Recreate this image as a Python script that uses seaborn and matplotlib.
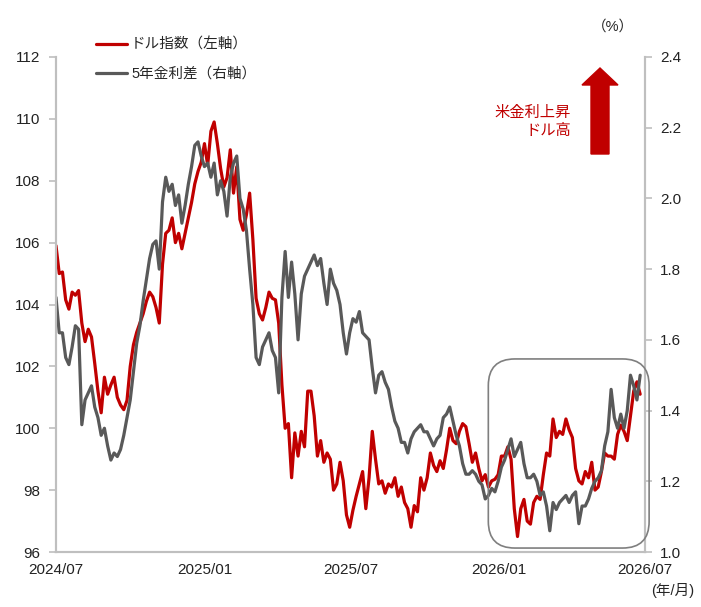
import numpy as np
import pandas as pd
import matplotlib
matplotlib.use("Agg")
import matplotlib.pyplot as plt
import matplotlib.dates as mdates
from matplotlib.patches import FancyBboxPatch, FancyArrow
from matplotlib.lines import Line2D
import seaborn as sns

# --- data (one point every 4 days) ---
start_date = "2024-07-01"
step = "4D"

dollar_index = [
    105.9, 105.0, 105.05, 104.15, 103.85, 104.4, 104.3, 104.45, 103.4, 102.8,
    103.2, 102.95, 102.1, 101.2, 100.5, 101.65, 101.1, 101.4, 101.65, 101.0,
    100.75, 100.6, 100.9, 102.0, 102.7, 103.1, 103.4, 103.7, 104.1, 104.4,
    104.25, 103.9, 103.4, 105.3, 106.3, 106.4, 106.8, 106.0, 106.3, 105.8,
    106.3, 106.8, 107.3, 107.9, 108.3, 108.6, 109.2, 108.5, 109.6, 109.9,
    109.2, 108.4, 107.8, 108.1, 109.0, 107.6, 108.45, 106.75, 106.4, 106.9,
    107.6, 106.1, 104.2, 103.7, 103.5, 103.9, 104.4, 104.2, 104.15, 103.4,
    101.4, 100.0, 100.15, 98.4, 99.85, 99.1, 99.9, 99.4, 101.2, 101.2,
    100.4, 99.1, 99.6, 98.9, 99.2, 99.0, 98.0, 98.2, 98.9, 98.3,
    97.2, 96.8, 97.35, 97.8, 98.2, 98.6, 97.4, 98.4, 99.9, 99.0,
    98.2, 98.3, 97.9, 98.2, 98.1, 98.4, 97.8, 98.1, 97.6, 97.4,
    96.8, 97.5, 97.3, 98.4, 98.0, 98.4, 99.2, 98.8, 98.6, 98.95,
    98.7, 99.3, 100.0, 99.6, 99.5, 99.9, 100.15, 100.05, 99.5, 98.9,
    99.2, 98.7, 98.3, 98.5, 98.1, 98.3, 98.35, 98.5, 99.1, 99.1,
    99.4, 99.0, 97.4, 96.5, 97.4, 97.7, 97.0, 96.9, 97.6, 97.8,
    97.7, 98.5, 99.2, 99.1, 100.3, 99.7, 99.9, 99.8, 100.3, 99.95,
    99.7, 98.7, 98.3, 98.2, 98.6, 98.4, 98.9, 98.0, 98.1, 98.6,
    99.2, 99.1, 99.1, 99.0, 99.8, 100.1, 99.9, 99.6, 100.4, 101.2,
    101.5, 101.1,
]

rate_spread = [
    1.72, 1.62, 1.62, 1.55, 1.53, 1.58, 1.64, 1.63, 1.36, 1.43,
    1.45, 1.47, 1.41, 1.38, 1.33, 1.35, 1.30, 1.26, 1.28, 1.27,
    1.29, 1.33, 1.38, 1.43, 1.51, 1.59, 1.64, 1.71, 1.77, 1.83,
    1.87, 1.88, 1.80, 1.99, 2.06, 2.02, 2.04, 1.98, 2.01, 1.93,
    1.98, 2.04, 2.09, 2.15, 2.16, 2.12, 2.09, 2.10, 2.06, 2.10,
    2.01, 2.05, 2.02, 1.95, 2.06, 2.10, 2.12, 2.00, 1.97, 1.91,
    1.80, 1.70, 1.55, 1.53, 1.58, 1.60, 1.62, 1.57, 1.55, 1.45,
    1.72, 1.85, 1.72, 1.82, 1.73, 1.60, 1.73, 1.78, 1.80, 1.82,
    1.84, 1.81, 1.83, 1.76, 1.70, 1.80, 1.76, 1.74, 1.70, 1.62,
    1.56, 1.62, 1.66, 1.65, 1.68, 1.62, 1.61, 1.60, 1.52, 1.45,
    1.50, 1.51, 1.48, 1.46, 1.41, 1.37, 1.35, 1.31, 1.31, 1.28,
    1.32, 1.34, 1.35, 1.36, 1.34, 1.34, 1.32, 1.30, 1.32, 1.33,
    1.38, 1.39, 1.41, 1.37, 1.33, 1.30, 1.25, 1.22, 1.22, 1.23,
    1.22, 1.20, 1.19, 1.15, 1.16, 1.18, 1.17, 1.20, 1.24, 1.26,
    1.29, 1.32, 1.27, 1.29, 1.31, 1.25, 1.21, 1.21, 1.22, 1.20,
    1.16, 1.17, 1.13, 1.06, 1.14, 1.12, 1.14, 1.15, 1.16, 1.14,
    1.16, 1.17, 1.08, 1.13, 1.13, 1.15, 1.18, 1.20, 1.21, 1.23,
    1.30, 1.34, 1.46, 1.38, 1.35, 1.39, 1.35, 1.40, 1.50, 1.47,
    1.43, 1.50,
]

x_ticks = ["2024-07-01", "2025-01-01", "2025-07-01", "2026-01-01", "2026-07-01"]
left_ticks = [96, 98, 100, 102, 104, 106, 108, 110, 112]
right_ticks = [1.0, 1.2, 1.4, 1.6, 1.8, 2.0, 2.2, 2.4]

label_dollar = "ドル指数（左軸）"
label_spread = "5年金利差（右軸）"

RED = "#c00000"
GRAY = "#595959"
SPINE = "#bfbfbf"

sns.set_theme(style="white")
plt.rcParams["font.family"] = ["Liberation Sans", "Noto Sans CJK JP", "DejaVu Sans"]
plt.rcParams["font.size"] = 10.5

df = pd.DataFrame({
    "date": pd.date_range(start_date, periods=len(dollar_index), freq=step),
    "dollar": dollar_index,
    "spread": rate_spread,
})

fig = plt.figure(figsize=(7.01, 6.07), dpi=100)
ax = fig.add_axes([56 / 701, 1 - 552 / 607, (645 - 56) / 701, (552 - 57) / 607])
ax2 = ax.twinx()

sns.lineplot(data=df, x="date", y="dollar", color=RED, lw=2.3, ax=ax, legend=False)
sns.lineplot(data=df, x="date", y="spread", color=GRAY, lw=2.3, ax=ax2, legend=False)

xt = pd.to_datetime(x_ticks)
ax.set_xlim(xt[0], xt[-1])
ax.set_ylim(96, 112)
ax2.set_ylim(1.0, 2.4)
ax.set_xticks(xt)
ax.xaxis.set_major_formatter(mdates.DateFormatter("%Y/%m"))
ax.set_yticks(left_ticks)
ax2.set_yticks(right_ticks)
ax2.set_yticklabels([f"{v:.1f}" for v in right_ticks])
for a in (ax, ax2):
    a.set_xlabel("")
    a.set_ylabel("")
    a.grid(False)
    a.spines["top"].set_visible(False)
    for s in ("left", "right", "bottom"):
        a.spines[s].set_color(SPINE)
        a.spines[s].set_linewidth(1.5)
    a.tick_params(colors=SPINE, labelcolor="#222222", labelsize=11,
                  length=5, width=1.2, direction="out")
ax.tick_params(axis="y", pad=6)
ax2.tick_params(axis="y", pad=6)
ax.tick_params(axis="x", pad=3)

# rounded box around the recent period
box = FancyBboxPatch((0.734, 0.008), 1.007 - 0.734, 0.39 - 0.008,
                     boxstyle="round,pad=0,rounding_size=0.045",
                     mutation_aspect=590 / 495, transform=ax.transAxes,
                     fill=False, edgecolor="#7f7f7f", lw=1.2, clip_on=False, zorder=5)
ax2.add_patch(box)

# arrow + note
arrow = FancyArrow(600 / 701, 1 - 154 / 607, 0, (154 - 68) / 607,
                   width=18 / 701, head_width=36 / 701, head_length=17 / 607,
                   length_includes_head=True, color=RED, transform=fig.transFigure)
fig.patches.append(arrow)
fig.text(571 / 701, 1 - 122 / 607, "米金利上昇\nドル高", color=RED, fontsize=11,
         ha="right", va="center", linespacing=1.45)

fig.text(613 / 701, 1 - 27 / 607, "（%）", ha="center", va="center", fontsize=10.5)
fig.text(694 / 701, 1 - 590 / 607, "(年/月)", ha="right", va="center", fontsize=10.5)

handles = [Line2D([], [], color=RED, lw=2.3), Line2D([], [], color=GRAY, lw=2.3)]
fig.legend(handles, [label_dollar, label_spread], loc="upper left",
           bbox_to_anchor=(96 / 701, 1 - 38 / 607), frameon=False, fontsize=10.5,
           handlelength=2.1, handletextpad=0.3, labelspacing=1.0,
           borderpad=0, borderaxespad=0)

fig.savefig("out.png", dpi=100)
